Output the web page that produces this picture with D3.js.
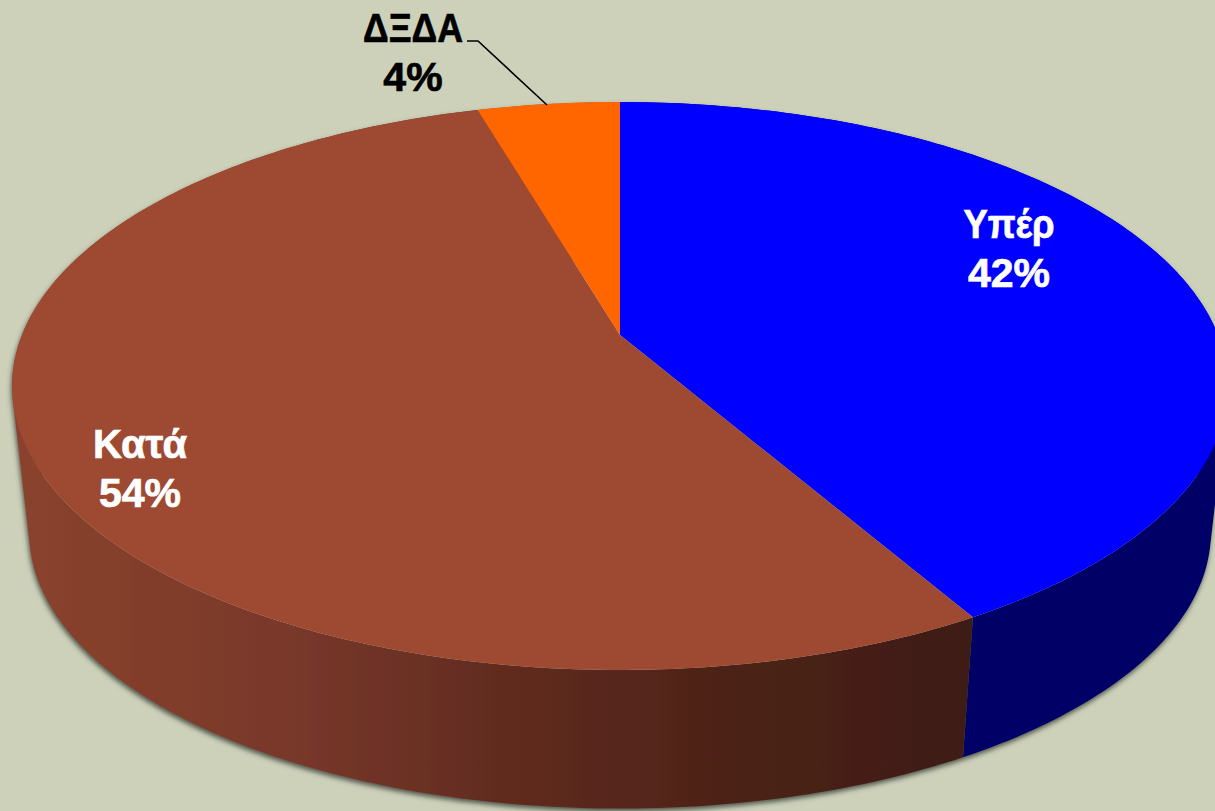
<!DOCTYPE html>
<html>
<head>
<meta charset="utf-8">
<script src="https://cdn.jsdelivr.net/npm/d3@7"></script>
<style>
	html, body { margin: 0; padding: 0; background: #cdd1ba; overflow: hidden; }
	text { font-family: "Liberation Sans", Arial, sans-serif; font-weight: bold; font-size: 41px; text-anchor: middle; stroke-width: 0.7; }
</style>
</head>
<body>
<div id="chart"></div>
<script>
const categories = ['Υπέρ', 'Κατά', 'ΔΞΔΑ'];
const slice_values = [41.7, 53.8, 4.5];
const percent_labels = ['42%', '54%', '4%'];
const top_colors = ['#0000ff', '#9e4a33', '#ff6600'];
const text_colors = ['#ffffff', '#ffffff', '#000000'];

const width = 1215;
const height = 811;

// perspective of the disc
const persp = 0.1796;
const scale_bottom = 0.972;

const x = d3.scaleLinear().domain([-1, 1]).range([22, 1218]);
const y_top = d3.scaleLinear().domain([-1, 1]).range([60.2, 609.8]);
const y_bottom = d3.scaleLinear().domain([-1, 1]).range([483 - 267.1, 483 + 267.1]);

function project(angle, plane){
	const u = Math.sin(angle);
	const v = -Math.cos(angle);
	const w = 1 - persp * v;
	if (plane == 'top'){
		return [x(u / w), y_top(v / w)];
	}
	const top_x = x(u / w);
	return [620 + (top_x - 620) * scale_bottom, y_bottom(v / w)];
}

function arc_points(d, plane){
	const steps = Math.ceil((d.endAngle - d.startAngle) * 60);
	return d3.range(steps + 1).map(function(i){
		const a = d.startAngle + (d.endAngle - d.startAngle) * i / steps;
		return project(a, plane);
	});
}

const line = d3.line();

// wall = many small quads in one path, all wound the same way so the band fills at the silhouette
function wall_path(d){
	const upper = arc_points(d, 'top');
	const lower = arc_points(d, 'bottom');
	let output = '';
	for (let i = 0; i < upper.length - 1; i++){
		const quad = [upper[i], upper[i + 1], lower[i + 1], lower[i]];
		if (d3.polygonArea(quad) < 0){
			quad.reverse();
		}
		output += line(quad) + 'Z';
	}
	return output;
}

const pie = d3.pie().sort(null).value(d => d.value);
const data = pie(categories.map((c, i) => ({ name: c, value: slice_values[i] })));

const svg = d3.select('#chart')
	.append('svg')
	.attr('width', width)
	.attr('height', height)
	.style('display', 'block');

svg.append('rect')
	.attr('width', width)
	.attr('height', height)
	.attr('fill', '#cdd1ba');

const defs = svg.append('defs');

const shadow = defs.append('filter')
	.attr('id', 'wall_shadow')
	.attr('x', '-5%').attr('y', '-5%')
	.attr('width', '110%').attr('height', '110%');
shadow.append('feDropShadow')
	.attr('dx', -1)
	.attr('dy', 3)
	.attr('stdDeviation', 2.5)
	.attr('flood-color', '#3c4238')
	.attr('flood-opacity', 0.85);

const grad = defs.append('linearGradient')
	.attr('id', 'brown_wall')
	.attr('gradientUnits', 'userSpaceOnUse')
	.attr('x1', 20).attr('y1', 0)
	.attr('x2', 970).attr('y2', 0);
grad.selectAll('stop')
	.data([[0, '#8a432d'], [0.3, '#77372a'], [0.5, '#622c1f'], [0.72, '#4f2318'], [1, '#3e1c12']])
	.join('stop')
	.attr('offset', d => d[0])
	.attr('stop-color', d => d[1]);

const wall_colors = ['#000066', 'url(#brown_wall)', '#c05000'];

// side walls
svg.append('g')
	.attr('filter', 'url(#wall_shadow)')
	.selectAll('path')
	.data(data)
	.join('path')
	.attr('d', wall_path)
	.attr('fill', (d, i) => wall_colors[i]);

// top of the pie
const center = [x(0), y_top(0)];
svg.append('g')
	.selectAll('path')
	.data(data)
	.join('path')
	.attr('d', d => line([center].concat(arc_points(d, 'top'))) + 'Z')
	.attr('fill', (d, i) => top_colors[i]);

// leader for the small slice
svg.append('path')
	.attr('d', line([[467, 41], [478, 41], [547, 105]]))
	.attr('fill', 'none')
	.attr('stroke', '#000000')
	.attr('stroke-width', 1.6);

// labels
const label_pos = [[1009, 238, 287, 91], [140, 458, 507, 94], [413, 42, 91, 100]];
const labels = svg.append('g');
categories.forEach(function(c, i){
	labels.append('text')
		.attr('x', label_pos[i][0])
		.attr('y', label_pos[i][1])
		.attr('textLength', label_pos[i][3])
		.attr('lengthAdjust', 'spacingAndGlyphs')
		.attr('fill', text_colors[i])
		.attr('stroke', text_colors[i])
		.text(c);
	labels.append('text')
		.attr('x', label_pos[i][0])
		.attr('y', label_pos[i][2])
		.attr('fill', text_colors[i])
		.attr('stroke', text_colors[i])
		.text(percent_labels[i]);
});
</script>
</body>
</html>
